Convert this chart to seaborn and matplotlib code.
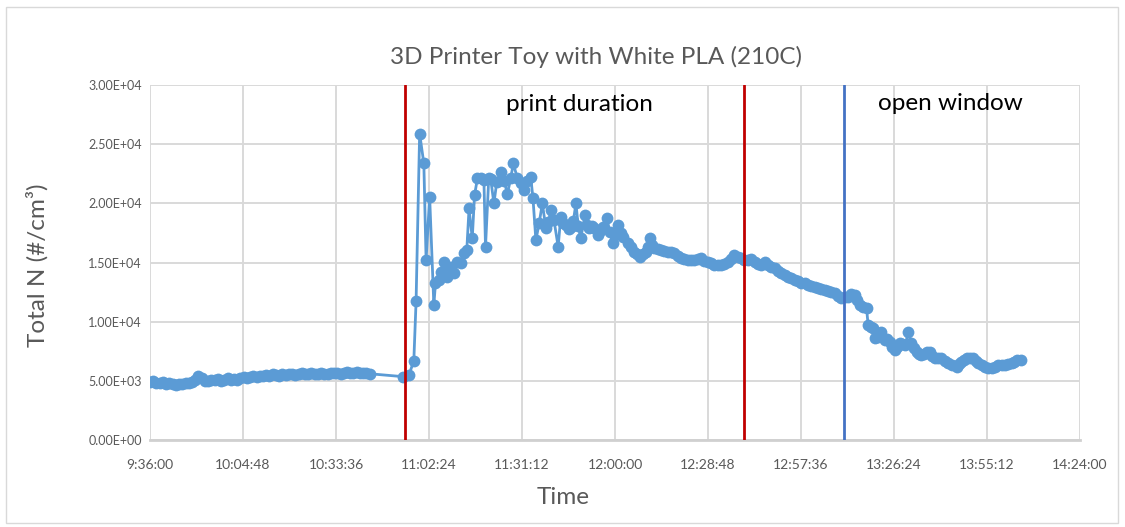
import matplotlib
matplotlib.use("Agg")
import matplotlib.pyplot as plt
import seaborn as sns
import pandas as pd
from matplotlib.patches import Rectangle

# ---------------- data ----------------
START_MIN = 9 * 60 + 36  # 9:36:00, minutes since midnight

# minutes after 9:36 and Total N (#/cm3) before printing
baseline_minutes = [0, 1, 2, 3, 4, 5, 6, 7, 8, 9, 10, 11, 12, 13, 14, 15, 16, 17, 18, 19,
                    20, 21, 22, 23, 24, 25, 26, 27, 28, 29, 30, 31, 32, 33, 34, 35, 36, 37, 38, 39,
                    40, 41, 42, 43, 44, 45, 46, 47, 48, 49, 50, 51, 52, 53, 54, 55, 56, 57, 58, 59,
                    60, 61, 62, 63, 64, 65, 66, 67, 68]
baseline_values = [4900, 4950, 4850, 4800, 4900, 4750, 4800, 4700, 4650, 4750, 4700, 4800, 4850, 4900, 5100,
                   5450, 5200, 5000, 4950, 5100, 5050, 5150, 5000, 5100, 5200, 5050, 5150, 5100, 5200, 5300,
                   5250, 5350, 5400, 5300, 5450, 5400, 5500, 5450, 5550, 5500, 5450, 5550, 5500, 5600, 5550,
                   5500, 5600, 5650, 5550, 5600, 5650, 5550, 5600, 5650, 5600, 5550, 5650, 5700, 5650, 5600,
                   5700, 5750, 5650, 5700, 5750, 5650, 5700, 5650, 5600]

# minutes after 9:36 and Total N during / after printing
print_minutes = [78.5, 80.2, 81.7, 82.4, 83.5, 84.8, 85.5, 86.6, 87.9, 88.4, 89.5, 90.2, 91.0, 92.1, 93.1,
                 94.1, 95.2, 96.2, 97.2, 98.1, 98.8, 99.8, 100.5, 101.4, 102.4, 103.4, 103.9, 104.9, 105.5,
                 106.5, 107.4, 108.6, 109.6, 110.7, 111.7, 112.5, 113.8, 114.8, 115.8, 116.9, 117.9, 118.6,
                 119.5, 120.5, 121.5, 122.6, 123.4, 124.1, 125.1, 126.4, 127.2, 128.0, 128.8, 129.6, 130.3,
                 131.1, 131.9, 132.6, 133.4, 134.7, 135.3, 136.0, 136.8, 137.6, 138.6, 139.4, 140.2, 141.5,
                 142.4, 143.3, 144.1, 144.9, 145.8, 146.6, 147.9, 148.9, 150.0, 150.9, 151.8, 152.7, 153.6,
                 154.3, 154.9, 155.6, 156.2, 157.3, 158.3, 159.3, 160.3, 161.4, 162.4, 163.5, 164.5, 165.5,
                 166.5, 167.6, 168.6, 169.7, 170.7, 171.7, 172.7, 173.8, 174.8, 175.9, 176.9, 177.9, 178.9,
                 180.0, 181.0, 182.1, 183.1, 184.1, 185.1, 186.2, 187.2, 188.3, 189.3, 190.3, 191.3, 192.4,
                 193.4, 194.4, 195.5, 196.5, 197.5, 198.6, 199.6, 200.6, 201.7, 202.7, 203.7, 204.8, 205.8,
                 206.8, 207.9, 208.9, 209.9, 211.0, 212.0, 213.0, 214.1, 215.1, 216.2, 217.2, 218.2, 219.0,
                 219.8, 220.9, 221.9, 222.4, 223.2, 223.9, 224.4, 225.5, 226.5, 227.6, 228.3, 229.1, 229.9,
                 230.7, 231.4, 232.2, 233.0, 233.9, 234.8, 235.8, 236.6, 237.4, 238.1, 238.9, 239.7, 240.7,
                 241.5, 242.3, 243.0, 244.0, 245.1, 246.1, 247.2, 248.5, 249.8, 250.5, 251.3, 252.1, 252.9,
                 253.9, 254.9, 255.7, 256.5, 257.5, 258.5, 259.6, 260.7, 261.7, 262.7, 263.8, 264.8, 265.8,
                 266.8, 267.6, 268.4, 269.7]
print_values = [5350, 5490, 6700, 11740, 25900, 23370, 15200, 20550, 11400, 13230, 13510, 14200, 15060, 13800,
                14640, 14080, 15060, 14920, 15770, 16050, 19570, 17040, 20690, 22100, 22100, 22000, 16330, 22100,
                22050, 20000, 21820, 22660, 21900, 20830, 22100, 23370, 22100, 21680, 21115, 21900, 22240, 20410,
                16890, 18300, 20000, 17880, 18400, 19430, 18580, 16330, 18860, 18300, 18160, 17800, 18020, 18500,
                20000, 18100, 17040, 19000, 18200, 17880, 18100, 17880, 17310, 17700, 18020, 18720, 17600, 16610,
                17300, 18160, 17500, 17170, 16610, 16300, 15900, 15700, 15480, 15700, 15900, 16300, 17040, 16500,
                16190, 16100, 16050, 16000, 15900, 15850, 15770, 15550, 15340, 15300, 15200, 15250, 15200, 15280,
                15340, 15150, 15060, 14950, 14780, 14750, 14780, 14900, 15060, 15300, 15630, 15450, 15340, 15250,
                15200, 15300, 15060, 14900, 14780, 15060, 14800, 14650, 14500, 14300, 14100, 13940, 13800, 13650,
                13510, 13400, 13300, 13230, 13100, 13050, 12950, 12850, 12750, 12670, 12600, 12500, 12390, 12200,
                11970, 12050, 12100, 12300, 12250, 11800, 11400, 11250, 11120, 9710, 9570, 9430, 8590, 8730,
                9150, 8450, 8500, 8300, 7900, 7600, 7900, 8170, 8100, 8000, 9150, 8170, 7800, 7460, 7300,
                7180, 7250, 7400, 7460, 7100, 6900, 6950, 6900, 6700, 6480, 6350, 6190, 6400, 6610, 6800,
                6900, 6950, 6900, 6700, 6480, 6300, 6190, 6100, 6050, 6200, 6330, 6300, 6330, 6400, 6480,
                6600, 6760, 6800]

x_tick_labels = ["9:36:00", "10:04:48", "10:33:36", "11:02:24", "11:31:12", "12:00:00",
                 "12:28:48", "12:57:36", "13:26:24", "13:55:12", "14:24:00"]
x_tick_minutes = [576, 604.8, 633.6, 662.4, 691.2, 720, 748.8, 777.6, 806.4, 835.2, 864]
y_ticks = [0, 5000, 10000, 15000, 20000, 25000, 30000]
y_tick_labels = ["0.00E+00", "5.00E+03", "1.00E+04", "1.50E+04", "2.00E+04", "2.50E+04", "3.00E+04"]

print_start_min = 654.9   # ~10:54:55
print_end_min = 759.8     # ~12:39:50
window_open_min = 790.9   # ~13:10:55

# ---------------- build table ----------------
minutes_all = [START_MIN + m for m in baseline_minutes + print_minutes]
values_all = baseline_values + print_values
df = pd.DataFrame({"Time": minutes_all, "TotalN": values_all})

sns.set_theme(style="whitegrid")
plt.rcParams["font.family"] = ["Lato", "DejaVu Sans"]

W, H = 1125, 527
fig = plt.figure(figsize=(W / 100, H / 100), dpi=100)
fig.patch.set_facecolor("white")

# chart-area border
fig.patches.append(Rectangle((6 / W, 4 / H), 1112 / W, 516 / H, transform=fig.transFigure,
                             fill=False, edgecolor="#d9d9d9", linewidth=1.0))

ax = fig.add_axes([150 / W, 1 - 440 / H, 930 / W, 355 / H])
ax.set_facecolor("white")

sns.lineplot(data=df, x="Time", y="TotalN", ax=ax, color="#5B9BD5", marker="o",
             markersize=8.5, markeredgewidth=0, linewidth=2.0, estimator=None, sort=False, zorder=3)

ax.set_xlim(x_tick_minutes[0], x_tick_minutes[-1])
ax.set_ylim(y_ticks[0], y_ticks[-1])
ax.set_xticks(x_tick_minutes)
ax.set_xticklabels(x_tick_labels)
ax.set_yticks(y_ticks)
ax.set_yticklabels(y_tick_labels)
ax.grid(True, color="#d9d9d9", linewidth=1.4)
for s in ["top", "right", "left"]:
    ax.spines[s].set_visible(False)
ax.spines["bottom"].set_color("#d0d0d0")
ax.spines["bottom"].set_linewidth(2.0)
ax.tick_params(axis="x", length=0, pad=14, labelsize=10, labelcolor="#595959")
ax.tick_params(axis="y", length=0, pad=6, labelsize=9, labelcolor="#595959")
ax.set_xlabel("")
ax.set_ylabel("")

ax.axvline(print_start_min, color="#C00000", linewidth=2, zorder=4)
ax.axvline(print_end_min, color="#C00000", linewidth=2, zorder=4)
ax.axvline(window_open_min, color="#4472C4", linewidth=2, zorder=4)

ax.text(709, 28350, "print duration", ha="center", va="center", fontsize=17.5, color="black")
ax.text(801.5, 28450, "open window", ha="left", va="center", fontsize=17.5, color="black")

fig.text(596 / W, 1 - 57 / H, "3D Printer Toy with White PLA (210C)", ha="center", va="center",
         fontsize=17.5, color="#595959")
fig.text(563 / W, 1 - 497 / H, "Time", ha="center", va="center", fontsize=17.5, color="#595959")
fig.text(37 / W, 1 - 265 / H, "Total N (#/cm³)", ha="center", va="center", rotation=90,
         fontsize=17.5, color="#595959")

fig.savefig("out.png", dpi=100)
